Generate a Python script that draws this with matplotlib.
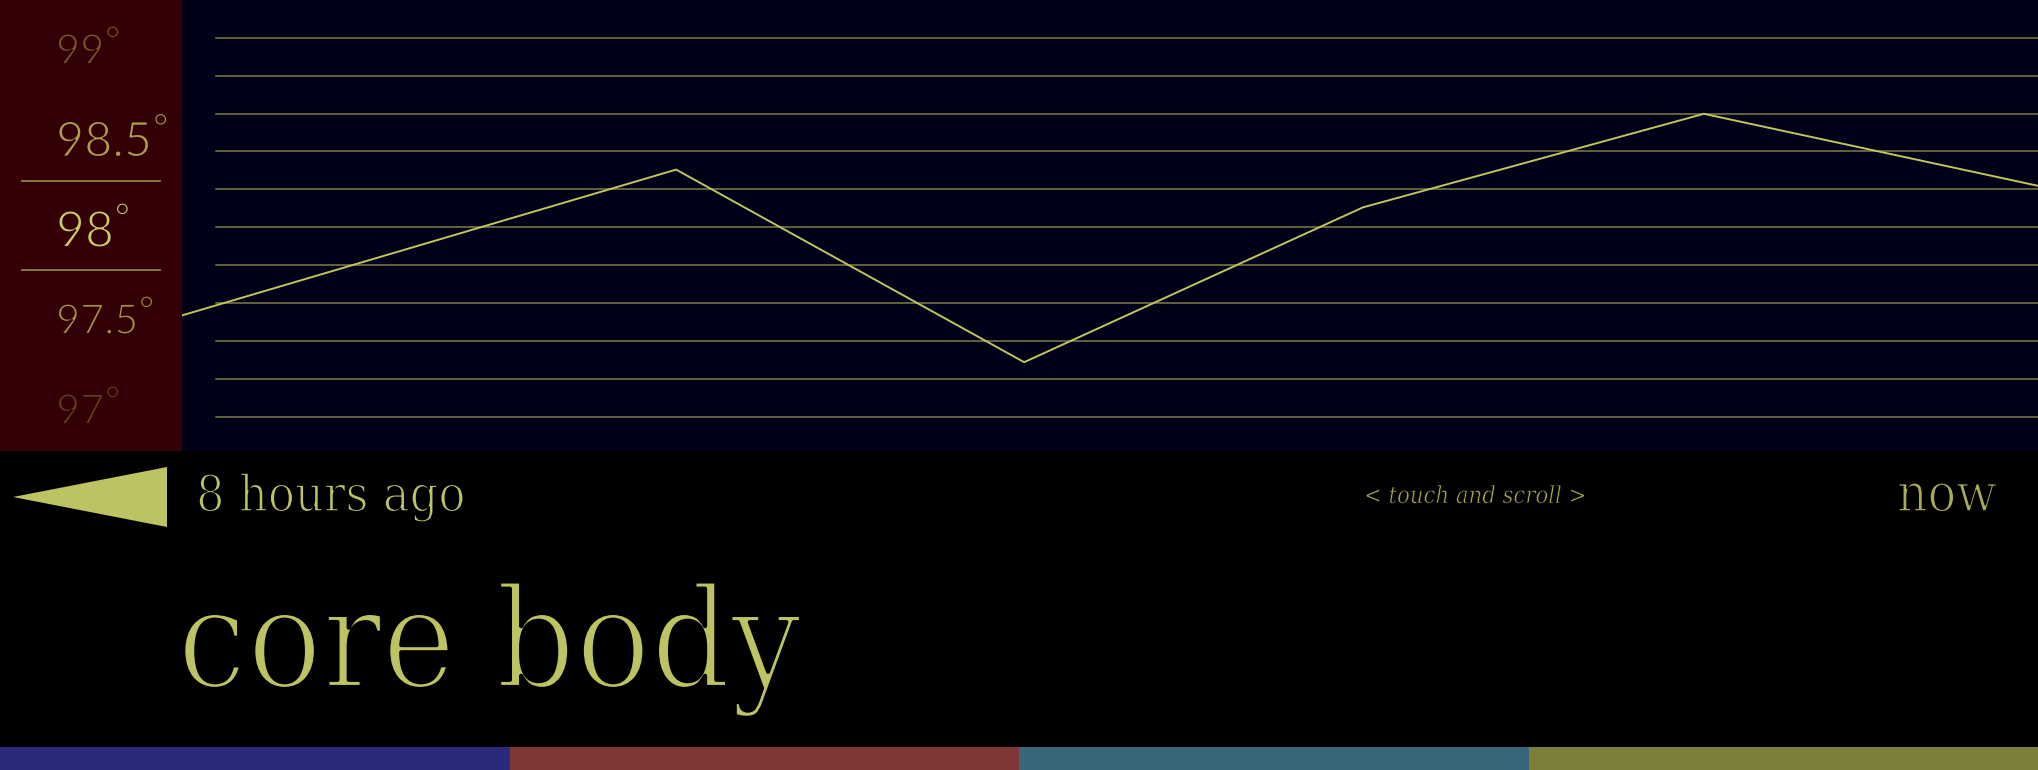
import matplotlib
matplotlib.use("Agg")
import matplotlib.pyplot as plt
import matplotlib.patheffects as pe
import numpy as np

W, H = 2038, 770

# core body temperature readings over the last 8 hours
hours = [0.0, 2.13, 3.63, 5.09, 6.56, 8.0]
temps = [97.52, 98.33, 97.26, 98.12, 98.64, 98.24]

scale_values = [99, 98.5, 98, 97.5, 97]
scale_labels = ["99", "98.5", "98", "97.5", "97"]
scale_colors = ["#7a5a28", "#ad9f4a", "#cccb64", "#a39342", "#62401a"]
scale_sizes = [30, 35, 36, 30, 30]
current = 98

bar_colors = ["#2a2a7a", "#7f3636", "#38677b", "#7e7e3c"]

olive = "#bdc262"
panel_red = "#330006"
serif = ["DejaVu Serif", "Liberation Serif"]
sans = ["Lato", "DejaVu Sans"]


def fx(x):
    return x / W


def fy(y):
    return 1 - y / H


def clean(ax):
    for s in ax.spines.values():
        s.set_visible(False)
    ax.set_xticks([])
    ax.set_yticks([])


def thin(w, bg="black"):
    # eat into the glyph edges so the face looks light
    return [pe.Stroke(linewidth=w, foreground=bg)]


fig = plt.figure(figsize=(W / 100, H / 100), dpi=100, facecolor="black")

top_px = 451
ymax = 99 + 49 / 180
ymin = 99 - (top_px - 49) / 180

# left scale panel
left = fig.add_axes([0, fy(top_px), 182 / W, top_px / H], facecolor=panel_red)
clean(left)
left.set_xlim(0, 182)
left.set_ylim(ymin, ymax)

# chart panel
ax = fig.add_axes([182 / W, fy(top_px), (W - 182) / W, top_px / H], facecolor="#000018")
clean(ax)
ax.set_xlim(hours[0], hours[-1])
ax.set_ylim(ymin, ymax)

for yf in np.linspace(1 - 37.7 / top_px, 1 - 417 / top_px, 11):
    ax.plot([34 / (W - 182), 1], [yf, yf], transform=ax.transAxes,
            color="#7c7c44", lw=1.1, zorder=1)
ax.plot(hours, temps, color="#c2c45e", lw=1.4, zorder=3)

# band around current reading
for v in (current + 0.265, current - 0.225):
    left.plot([22, 160], [v, v], color="#8a8540", lw=1.3)


def val_to_px(v):
    return 49 + (99 - v) * 180


cap = 0.7165
labels = []
for v, lab, c, s in zip(scale_values, scale_labels, scale_colors, scale_sizes):
    em = s * 100 / 72
    cy = val_to_px(v)
    base = cy + 0.5 * cap * em
    t = fig.text(fx(56), fy(base), lab, ha="left", va="baseline", fontsize=s,
                 color=c, family=sans, fontweight="normal",
                 path_effects=thin(1.25, panel_red))
    labels.append((t, cy, cap * em, c))

fig.canvas.draw()
r = fig.canvas.get_renderer()
deg_size = 26
deg_em = deg_size * 100 / 72
for t, cy, ch, c in labels:
    bb = t.get_window_extent(r)
    ring_c = cy - ch / 2 - 3
    base = ring_c + 0.585 * deg_em
    fig.text((bb.x1 + 1) / W, fy(base), "°", ha="left", va="baseline",
             fontsize=deg_size, color=c, family=sans, fontweight="normal",
             path_effects=thin(0.8, panel_red))

# bottom area
tri = plt.Polygon([(fx(13), fy(497)), (fx(167), fy(467)), (fx(167), fy(527))],
                  closed=True, transform=fig.transFigure, color=olive, lw=0)
fig.add_artist(tri)

fig.text(fx(196), fy(511), "8 hours ago", ha="left", va="baseline",
         fontsize=36, color=olive, family=serif, fontstretch="condensed",
         path_effects=thin(1.1))
fig.text(fx(1364), fy(503), "< touch and scroll >", ha="left", va="baseline",
         fontsize=17, color="#a6a852", family=serif, style="italic",
         fontstretch="condensed", path_effects=thin(0.4))
fig.text(fx(1897), fy(511), "now", ha="left", va="baseline",
         fontsize=38, color="#a9ad52", family=serif, fontstretch="condensed",
         path_effects=thin(1.1))
fig.text(fx(177), fy(687), "core body", ha="left", va="baseline",
         fontsize=100, color=olive, family=serif, fontstretch="condensed",
         path_effects=thin(3.0))

# colour strip
bax = fig.add_axes([0, 0, 1, 23 / H])
clean(bax)
bax.bar(range(len(bar_colors)), [1] * len(bar_colors), width=1.0, color=bar_colors)
bax.set_xlim(-0.5, len(bar_colors) - 0.5)
bax.set_ylim(0, 1)

fig.savefig("out.png", dpi=100, facecolor="black")
